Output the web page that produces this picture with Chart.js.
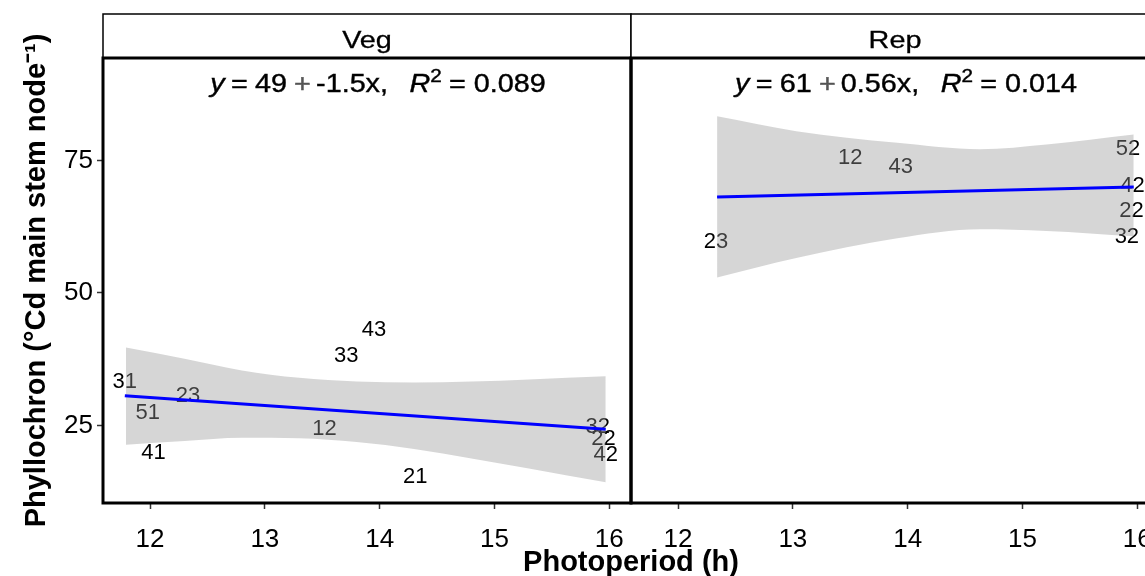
<!DOCTYPE html>
<html><head><meta charset="utf-8">
<script src="https://cdn.jsdelivr.net/npm/chart.js@4.4.1/dist/chart.umd.min.js"></script>
<style>
html,body{margin:0;padding:0;overflow:hidden;background:#fff;width:1145px;height:576px;}
#wrap{position:relative;width:1145px;height:576px;overflow:hidden;background:#fff;}
canvas{position:absolute;top:0;}
#cVeg{left:0;}
#cRep{left:629px;}
#xtitle{position:absolute;left:381px;width:500px;top:547px;text-align:center;font:bold 29px "Liberation Sans",Arial,sans-serif;line-height:29px;color:#000;white-space:nowrap;}
</style></head><body>
<div id="wrap">
<canvas id="cVeg" width="634" height="576"></canvas>
<canvas id="cRep" width="545" height="576"></canvas>
<div id="xtitle">Photoperiod (h)</div>
</div>
<script>
// ---------- data ----------
const xTicks = [12, 13, 14, 15, 16];
const yTicks = [25, 50, 75];
const yTitle = 'Phyllochron (°Cd main stem node⁻¹)';

const vegName = 'Veg';
const vegLabels = ['31', '51', '41', '23', '12', '33', '43', '21', '32', '22', '42'];
const vegX = [11.78, 11.98, 12.03, 12.33, 13.52, 13.71, 13.95, 14.31, 15.90, 15.95, 15.97];
const vegY = [33.3, 27.4, 19.9, 30.6, 24.4, 38.2, 43.0, 15.4, 24.8, 22.5, 19.5];
const vegFitX = [11.78, 15.97];
const vegFitY = [30.6, 24.3];
const vegBandX = [11.79, 12.3, 12.8, 13.3, 13.8, 14.3, 14.8, 15.3, 15.97];
const vegBandHi = [39.7, 37.6, 35.4, 34.0, 33.3, 33.1, 33.3, 33.7, 34.3];
const vegBandLo = [21.4, 22.1, 22.7, 22.6, 21.9, 20.6, 18.8, 16.9, 14.3];
const vegEq = ['49', '-1.5', '0.089'];

const repName = 'Rep';
const repLabels = ['23', '12', '43', '52', '42', '22', '32'];
const repX = [12.33, 13.50, 13.94, 15.92, 15.96, 15.95, 15.91];
const repY = [59.7, 75.5, 73.8, 77.2, 70.1, 65.5, 60.6];
const repFitX = [12.34, 15.97];
const repFitY = [68.1, 70.0];
const repBandX = [12.34, 13.03, 13.91, 14.63, 15.21, 15.97];
const repBandHi = [83.3, 80.5, 78.3, 77.1, 78.0, 79.9];
const repBandLo = [52.9, 56.6, 60.3, 62.0, 61.7, 60.7];
const repEq = ['61', '0.56', '0.014'];

const xMin = 11.59, xMax = 16.19;
const yMin = 10.4, yMax = 94.3;

// ---------- helpers ----------
const FAM = '"Liberation Sans", Arial, Helvetica, sans-serif';
const pts = (xs, ys) => xs.map((x, i) => ({x: x, y: ys[i]}));

function drawEquation(ctx, cx, baseline, eq) {
  const size = 25, stretch = 1.15;
  const nf = size + 'px ' + FAM, itf = 'italic ' + size + 'px ' + FAM;
  const pieces = [
    {t: 'y', f: itf}, {g: 0.22}, {t: '=', f: nf}, {g: 0.25}, {t: eq[0], f: nf}, {g: 0.25},
    {t: '+', f: nf, c: '#555'}, {g: 0.18}, {t: eq[1] + 'x,', f: nf}, {g: 0.75},
    {t: 'R', f: itf}, {t: '2', f: Math.round(size * 0.7) + 'px ' + FAM, dy: -size * 0.42},
    {g: 0.25}, {t: '= ' + eq[2], f: nf}
  ];
  ctx.save();
  let w = 0;
  pieces.forEach(p => {
    if (p.g !== undefined) { p.w = p.g * size; }
    else { ctx.font = p.f; p.w = ctx.measureText(p.t).width; }
    w += p.w;
  });
  ctx.translate(cx - w * stretch / 2, baseline);
  ctx.scale(stretch, 1);
  ctx.textBaseline = 'alphabetic';
  ctx.textAlign = 'left';
  let x = 0;
  pieces.forEach(p => {
    if (p.t !== undefined) {
      ctx.font = p.f;
      ctx.fillStyle = p.c || '#000';
      ctx.strokeStyle = p.c || '#000';
      ctx.lineWidth = 0.4;
      ctx.fillText(p.t, x, p.dy || 0);
      ctx.strokeText(p.t, x, p.dy || 0);
    }
    x += p.w;
  });
  ctx.restore();
}

function panelPlugin(name, eq) {
  return {
    id: 'panel' + name,
    afterDatasetDraw(chart, args) {
      const ds = chart.data.datasets[args.index];
      if (!ds.textLabels) return;
      const ctx = chart.ctx;
      ctx.save();
      ctx.font = '22px ' + FAM;
      ctx.fillStyle = '#000';
      ctx.textAlign = 'center';
      ctx.textBaseline = 'middle';
      args.meta.data.forEach((el, i) => ctx.fillText(ds.textLabels[i], el.x, el.y));
      ctx.restore();
    },
    afterDraw(chart) {
      const ctx = chart.ctx, ca = chart.chartArea;
      ctx.save();
      // strip
      const sTop = 14;
      ctx.fillStyle = '#fff';
      ctx.fillRect(ca.left, sTop, ca.right - ca.left, ca.top - sTop);
      ctx.strokeStyle = '#000';
      ctx.lineWidth = 1.5;
      ctx.strokeRect(ca.left, sTop, ca.right - ca.left, ca.top - sTop);
      ctx.save();
      ctx.translate((ca.left + ca.right) / 2, 48);
      ctx.scale(1.2, 1);
      ctx.font = '24px ' + FAM;
      ctx.fillStyle = '#000';
      ctx.strokeStyle = '#000';
      ctx.lineWidth = 0.3;
      ctx.textAlign = 'center';
      ctx.textBaseline = 'alphabetic';
      ctx.fillText(name, 0, 0);
      ctx.strokeText(name, 0, 0);
      ctx.restore();
      // panel border
      ctx.lineWidth = 3;
      ctx.strokeStyle = '#000';
      ctx.strokeRect(ca.left, ca.top, ca.right - ca.left, ca.bottom - ca.top);
      // equation
      drawEquation(ctx, (ca.left + ca.right) / 2 + 11, 92, eq);
      ctx.restore();
    }
  };
}

function makeChart(id, name, labels, xs, ys, fitX, fitY, bandX, bandHi, bandLo, eq, showY, padding) {
  const tickFont = {family: FAM, size: 26};
  return new Chart(document.getElementById(id), {
    type: 'line',
    data: {
      datasets: [
        {data: pts(xs, ys), textLabels: labels, showLine: false, pointRadius: 0, order: 3},
        {data: pts(bandX, bandHi), borderWidth: 0, pointRadius: 0, fill: '+1',
         backgroundColor: 'rgba(153,153,153,0.4)', borderColor: 'rgba(0,0,0,0)', order: 2,
         cubicInterpolationMode: 'monotone'},
        {data: pts(bandX, bandLo), borderWidth: 0, pointRadius: 0, fill: false,
         borderColor: 'rgba(0,0,0,0)', order: 2, cubicInterpolationMode: 'monotone'},
        {data: pts(fitX, fitY), borderColor: '#0000ff', borderWidth: 3, pointRadius: 0,
         fill: false, order: 1}
      ]
    },
    options: {
      responsive: false,
      animation: false,
      devicePixelRatio: 1,
      events: [],
      layout: {padding: padding},
      plugins: {legend: {display: false}, tooltip: {enabled: false}},
      scales: {
        x: {
          type: 'linear', min: xMin, max: xMax,
          afterBuildTicks: s => { s.ticks = xTicks.map(v => ({value: v})); },
          afterFit: s => { s.height = 73; s.paddingLeft = 0; s.paddingRight = 0; },
          ticks: {font: tickFont, color: '#000', padding: 15, maxRotation: 0,
                  callback: v => String(v)},
          grid: {drawOnChartArea: false, drawTicks: true, tickLength: 6, tickColor: '#333', tickWidth: 1.5},
          border: {display: false}
        },
        y: {
          type: 'linear', min: yMin, max: yMax, display: showY,
          afterBuildTicks: s => { s.ticks = yTicks.map(v => ({value: v})); },
          afterFit: s => { if (showY) s.width = 103; s.paddingTop = 0; s.paddingBottom = 0; },
          ticks: {font: tickFont, color: '#000', padding: 4, callback: v => String(v)},
          grid: {drawOnChartArea: false, drawTicks: true, tickLength: 6, tickColor: '#333', tickWidth: 1.5},
          border: {display: false},
          title: {display: true, text: yTitle, color: '#000',
                  font: {family: FAM, size: 29, weight: 'bold'}, padding: {top: 20, bottom: 0}}
        }
      }
    },
    plugins: [panelPlugin(name, eq)]
  });
}

makeChart('cVeg', vegName, vegLabels, vegX, vegY, vegFitX, vegFitY, vegBandX, vegBandHi, vegBandLo, vegEq,
          true, {top: 58, left: 0, right: 3, bottom: 0});
makeChart('cRep', repName, repLabels, repX, repY, repFitX, repFitY, repBandX, repBandHi, repBandLo, repEq,
          false, {top: 58, left: 2, right: 15, bottom: 0});
</script>
</body></html>
